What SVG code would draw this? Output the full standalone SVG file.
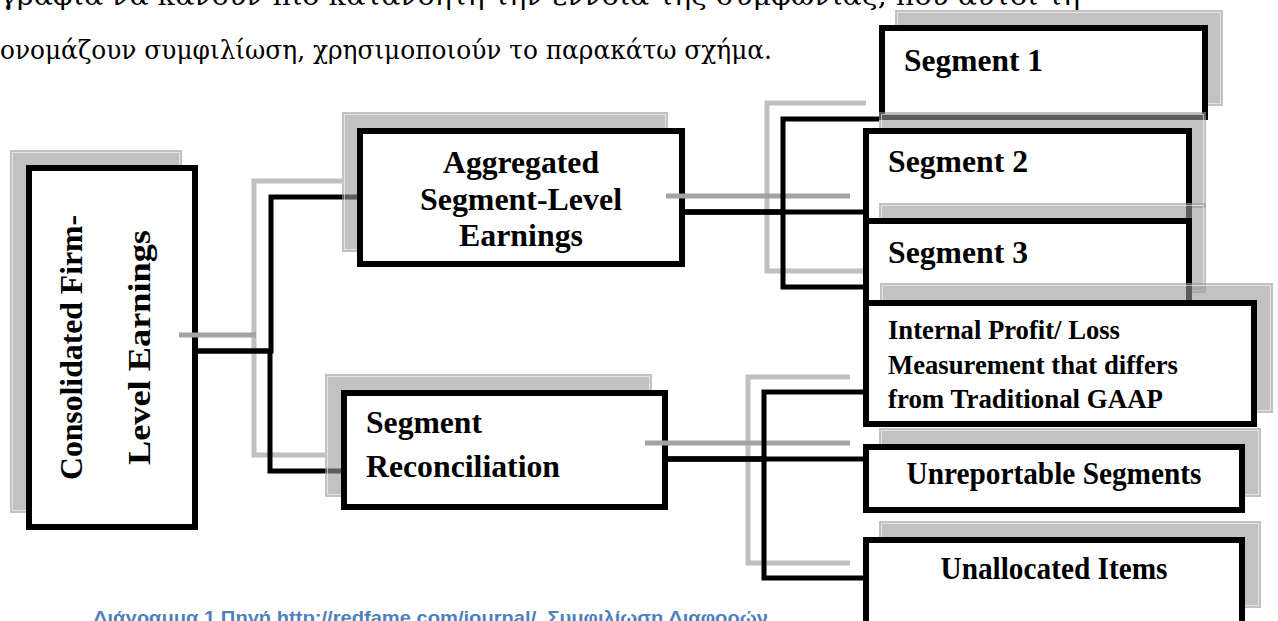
<svg xmlns="http://www.w3.org/2000/svg" width="1278" height="621" viewBox="0 0 1278 621">
<style>
.para{font-family:"DejaVu Serif","Liberation Serif",serif;font-size:26px;fill:#000}
.lbl{font-family:"Liberation Serif","Times New Roman",serif;font-weight:bold;font-size:32px;fill:#000}
.lbs{font-family:"Liberation Serif","Times New Roman",serif;font-weight:bold;font-size:27px;fill:#000}
.cap{font-family:"Liberation Sans",Arial,sans-serif;font-weight:bold;font-size:19px;fill:#4f81bd}
.sh{fill:#999999;fill-opacity:0.6}
.shl{fill:none;stroke:#ffffff;stroke-opacity:0.55;stroke-width:1}
.box{fill:#ffffff;stroke:#000000;stroke-width:6}
.cg{fill:none;stroke:#c0c0c0;stroke-width:5}
.cgs{fill:none;stroke:#a3a3a3;stroke-width:5}
.cb{fill:none;stroke:#000000;stroke-width:5}
</style>
<rect width="1278" height="621" fill="#ffffff"/>
<text class="para" x="0" y="5" textLength="1080" lengthAdjust="spacingAndGlyphs">γραφία να κάνουν πιο κατανοητή την έννοια της συμφωνίας, που αυτοί τη</text>
<text class="para" x="0" y="59" textLength="772" lengthAdjust="spacingAndGlyphs">ονομάζουν συμφιλίωση, χρησιμοποιούν το παρακάτω σχήμα.</text>

<g id="consolidated">
  <rect class="sh" x="10" y="150" width="172" height="363"/>
  <rect class="shl" x="12.5" y="152.5" width="167" height="358"/>
  <rect class="box" x="29" y="168" width="166" height="359"/>
  <text class="lbl" transform="translate(82,347.5) rotate(-90)" text-anchor="middle" textLength="265" lengthAdjust="spacingAndGlyphs">Consolidated Firm-</text>
  <text class="lbl" transform="translate(150,347.5) rotate(-90)" text-anchor="middle" textLength="235" lengthAdjust="spacingAndGlyphs">Level Earnings</text>
</g>

<g id="connectors">
  <path class="cg" d="M254 335 V181 H342"/>
  <path class="cg" d="M254 335 V455 H325"/>
  <path class="cgs" d="M179 335 H256"/>
  <path class="cg" d="M767 196 V103 H866"/>
  <path class="cg" d="M767 196 V271 H863"/>
  <path class="cgs" d="M685 196 H850"/>
  <path class="cg" d="M748 443 V377 H850"/>
  <path class="cg" d="M748 443 V563 H850"/>
  <path class="cgs" d="M668 443 H850"/>
  <path class="cb" d="M195 351 H271 V197 H357"/>
  <path class="cb" d="M195 351 H270 V471 H341"/>
  <path class="cb" d="M682 212 H783 V119 H879"/>
  <path class="cb" d="M682 212 H863"/>
  <path class="cb" d="M682 212 H783 V287 H863"/>
  <path class="cb" d="M665 459 H764 V392 H863"/>
  <path class="cb" d="M665 459 H863"/>
  <path class="cb" d="M665 459 H764 V578 H863"/>
</g>

<g id="aggregated">
  <rect class="sh" x="342" y="112" width="326" height="140"/>
  <rect class="shl" x="344.5" y="114.5" width="321" height="135"/>
  <rect class="box" x="360" y="131" width="322" height="133"/>
  <text class="lbl" x="521" y="173" text-anchor="middle" textLength="156" lengthAdjust="spacingAndGlyphs">Aggregated</text>
  <text class="lbl" x="521" y="210" text-anchor="middle" textLength="202" lengthAdjust="spacingAndGlyphs">Segment-Level</text>
  <text class="lbl" x="521" y="246" text-anchor="middle" textLength="124" lengthAdjust="spacingAndGlyphs">Earnings</text>
</g>

<g id="reconciliation">
  <rect class="sh" x="325" y="374" width="327" height="123"/>
  <rect class="shl" x="327.5" y="376.5" width="322" height="118"/>
  <rect class="box" x="344" y="393" width="321" height="114"/>
  <text class="lbl" x="366" y="433" textLength="116" lengthAdjust="spacingAndGlyphs">Segment</text>
  <text class="lbl" x="366" y="477" textLength="194" lengthAdjust="spacingAndGlyphs">Reconciliation</text>
</g>

<g id="connector-stubs">
  <path class="cgs" d="M666 196 H686"/>
  <path class="cgs" d="M645 443 H669"/>
</g>

<g id="segment1">
  <rect class="sh" x="895" y="10" width="328" height="96"/>
  <rect class="shl" x="897.5" y="12.5" width="323" height="91"/>
  <rect class="box" x="882" y="28" width="323" height="89"/>
  <text class="lbl" x="904" y="71" textLength="139" lengthAdjust="spacingAndGlyphs">Segment 1</text>
</g>

<g id="segment2">
  <rect class="sh" x="879" y="112" width="327" height="96"/>
  <rect class="shl" x="881.5" y="114.5" width="322" height="91"/>
  <rect class="box" x="866" y="131" width="323" height="90"/>
  <text class="lbl" x="888" y="172" textLength="140" lengthAdjust="spacingAndGlyphs">Segment 2</text>
</g>

<g id="segment3">
  <rect class="sh" x="879" y="203" width="327" height="90"/>
  <rect class="shl" x="881.5" y="205.5" width="322" height="85"/>
  <rect class="box" x="866" y="221" width="323" height="85"/>
  <text class="lbl" x="888" y="263" textLength="140" lengthAdjust="spacingAndGlyphs">Segment 3</text>
</g>

<g id="internal">
  <rect class="sh" x="880" y="283" width="393" height="130"/>
  <rect class="shl" x="882.5" y="285.5" width="388" height="125"/>
  <rect class="box" x="866" y="303" width="388" height="121"/>
  <text class="lbs" x="888" y="339" textLength="232" lengthAdjust="spacingAndGlyphs">Internal Profit/ Loss</text>
  <text class="lbs" x="888" y="374" textLength="290" lengthAdjust="spacingAndGlyphs">Measurement that differs</text>
  <text class="lbs" x="888" y="408" textLength="275" lengthAdjust="spacingAndGlyphs">from Traditional GAAP</text>
</g>

<g id="unreportable">
  <rect class="sh" x="879" y="428" width="382" height="69"/>
  <rect class="shl" x="881.5" y="430.5" width="377" height="64"/>
  <rect class="box" x="866" y="447" width="376" height="63"/>
  <text class="lbl" x="1054" y="484" text-anchor="middle" font-size="30" textLength="295" lengthAdjust="spacingAndGlyphs">Unreportable Segments</text>
</g>

<g id="unallocated">
  <rect class="sh" x="879" y="521" width="382" height="87"/>
  <rect class="shl" x="881.5" y="523.5" width="377" height="82"/>
  <rect class="box" x="866" y="540" width="376" height="90"/>
  <text class="lbl" x="1054" y="579" text-anchor="middle" font-size="30" textLength="227" lengthAdjust="spacingAndGlyphs">Unallocated Items</text>
</g>

<text class="cap" x="93" y="624" textLength="675" lengthAdjust="spacingAndGlyphs">Διάγραμμα 1 Πηγή http://redfame.com/journal/ ,Συμφιλίωση Διαφορών</text>
</svg>
